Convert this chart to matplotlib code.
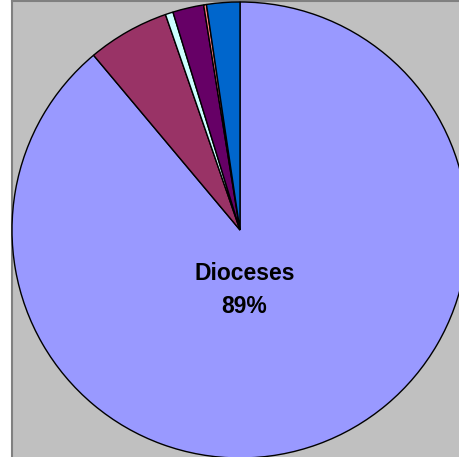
import matplotlib.pyplot as plt

# Share of each group (percent), clockwise from 12 o'clock
labels = ['Dioceses', 'Group 2', 'Group 3', 'Group 4', 'Group 5', 'Group 6']
values = [88.9, 5.8, 0.55, 2.2, 0.2, 2.35]
colors = ['#9999FF', '#993366', '#CCFFFF', '#660066', '#FF8080', '#0066CC']

fig = plt.figure(figsize=(4.6, 4.57), dpi=100, facecolor='white')

# grey plot area with a thin frame on the left and top
bg = fig.add_axes([12 / 460, 0, 448 / 460, 456 / 457])
bg.set_facecolor('#C0C0C0')
bg.set_xticks([])
bg.set_yticks([])
for side in ['right', 'bottom']:
    bg.spines[side].set_visible(False)
for side in ['left', 'top']:
    bg.spines[side].set_color('#808080')
    bg.spines[side].set_linewidth(1.5)

ax = fig.add_axes([0, 0, 1, 1])
ax.patch.set_alpha(0)
ax.pie(values, colors=colors, startangle=90, counterclock=False,
       wedgeprops={'edgecolor': 'black', 'linewidth': 1.0})
ax.set_aspect('auto')
ax.set_xlim(-240 / 228, 220 / 228)
ax.set_ylim(-227 / 228, 230 / 228)
ax.axis('off')

ax.text(0.02, -0.265, 'Dioceses\n89%', ha='center', va='center',
        fontsize=16.5, fontweight='bold', family='Liberation Sans',
        linespacing=1.55)

fig.savefig('out.png', dpi=100)
